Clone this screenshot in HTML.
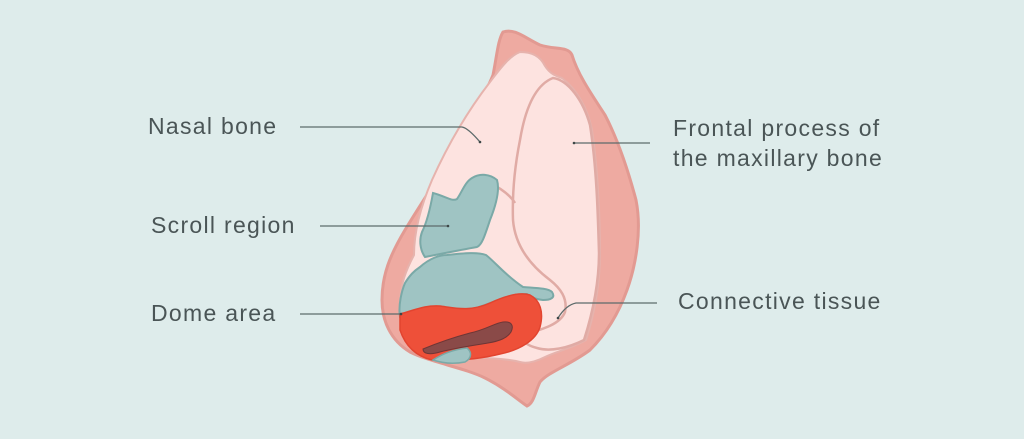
<!DOCTYPE html>
<html><head><meta charset="utf-8"><style>
html,body{margin:0;padding:0;background:#deeceb;}
svg{display:block}
text{font-family:"Liberation Sans",sans-serif;font-size:23px;fill:#4a5556;letter-spacing:1.3px}
</style></head><body>
<svg width="1024" height="439" viewBox="0 0 1024 439" xmlns="http://www.w3.org/2000/svg">
<rect width="1024" height="439" fill="#deeceb"/>
<path d="M503,32 C515,28 525,38 540,45 C555,50 568,46 572,55 C578,75 592,95 605,115 C618,140 628,170 636,200 C642,230 636,265 627,290 C618,315 605,335 590,350 C570,365 548,372 540,382 C535,392 534,403 527,406 C518,400 505,388 485,378 C465,368 430,362 410,352 C390,340 382,320 382,300 C382,275 390,255 405,230 C420,205 437,180 455,150 C470,120 485,95 493,75 C497,55 498,40 503,32 Z" fill="#eeaaa1" stroke="#e29a92" stroke-width="3"/>
<path d="M520,52 C532,52 540,56 545,66 C550,74 556,76 562,78 C578,90 588,110 592,130 C598,170 600,220 600,253 C600,285 594,315 586,340 C572,348 555,352 545,357 C535,362 527,364 520,362 C500,357 470,358 445,357 C420,352 402,332 400,305 C400,285 406,270 414,255 C414,232 420,208 432,180 C450,140 470,108 490,82 C502,66 510,56 520,52 Z" fill="#fde3e0" stroke="#e6b3ad" stroke-width="2"/>
<path d="M553,78 C568,80 583,100 590,125 C597,170 598,220 599,253 C599,285 592,315 584,340 C568,348 550,352 537,348 C525,345 522,340 523,335 C540,330 560,325 565,312 C568,298 560,288 550,280 C530,265 515,245 513,220 C512,190 515,165 520,140 C525,110 535,85 553,78 Z" fill="#fde3e0" stroke="#e0aba5" stroke-width="2.5"/>
<path d="M490,183 C500,188 510,195 515,203" fill="none" stroke="#e0aba5" stroke-width="2.5"/>
<path d="M433,193 C445,196 452,202 457,199 C462,192 465,182 472,178 C480,173 490,174 497,180 C500,190 496,205 490,220 C485,235 482,245 477,247 C460,250 445,253 425,257 C420,250 419,240 422,232 C427,222 430,210 433,193 Z" fill="#9fc4c3" stroke="#7aa9a7" stroke-width="2"/>
<path d="M420,267 C430,258 440,255 447,255 C465,253 478,252 486,255 C495,262 505,275 523,287 C535,288 548,288 552,292 C556,298 550,300 543,300 C535,299 530,297 527,294 C515,294 510,296 503,298 C485,305 470,312 455,310 C430,305 415,313 400,317 C398,305 402,290 405,283 C410,275 414,271 420,267 Z" fill="#9fc4c3" stroke="#7aa9a7" stroke-width="2"/>
<path d="M400,314 C415,310 425,305 440,306 C455,308 470,312 490,303 C505,296 520,292 530,295 C540,300 544,312 540,327 C536,340 520,350 500,354 C480,359 455,361 432,360 C415,356 405,345 400,330 Z" fill="#ee5039" stroke="#e2442f" stroke-width="1.5"/>
<path d="M433,360 C445,352 458,349 467,348 C472,352 472,358 465,362 C455,364 445,364 433,360 Z" fill="#9fc4c3" stroke="#7aa9a7" stroke-width="1.5"/>
<path d="M423,349 C440,342 455,337 470,333 C485,330 495,323 503,322 C512,321 514,326 511,332 C507,338 500,341 488,343 C470,346 455,348 440,352 C430,355 423,354 423,349 Z" fill="#8a4a48" stroke="#6e3636" stroke-width="1"/>
<g stroke="#5d6b6b" stroke-width="1.3" fill="none">
<path d="M300,127 L462,127 Q468,128 480,142"/>
<path d="M574,143 L650,143"/>
<path d="M320,226 L448,226"/>
<path d="M300,314 L401,314"/>
<path d="M558,318 Q566,305 576,303 L657,303"/>
</g>
<g fill="#3d4747"><circle cx="480" cy="142" r="1.3"/><circle cx="574" cy="143" r="1.3"/><circle cx="448" cy="226" r="1.3"/><circle cx="401" cy="314" r="1.3"/><circle cx="558" cy="318" r="1.3"/></g>
<text x="148" y="134">Nasal bone</text>
<text x="151" y="233">Scroll region</text>
<text x="151" y="321">Dome area</text>
<text x="673" y="136">Frontal process of</text>
<text x="673" y="166">the maxillary bone</text>
<text x="678" y="309">Connective tissue</text>
</svg>
</body></html>
